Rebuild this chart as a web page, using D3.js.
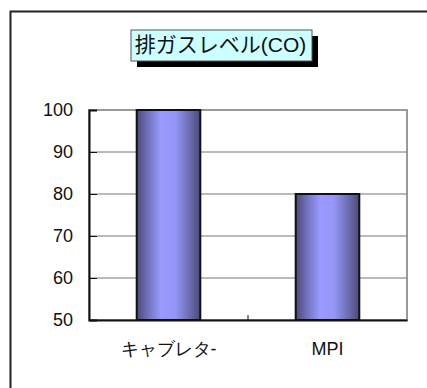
<!DOCTYPE html>
<html><head><meta charset="utf-8">
<script src="https://cdn.jsdelivr.net/npm/d3@7"></script>
<style>
html,body{margin:0;padding:0;background:#fff;}
svg{display:block;font-family:"Liberation Sans","Noto Sans CJK JP",Arial,sans-serif;}
</style></head>
<body>
<script>
const categories = ["キャブレタ-", "MPI"];
const values = [100, 80];
const yTicks = [50, 60, 70, 80, 90, 100];
const title = "排ガスレベル(CO)";

(function(){
const W = 427, H = 388;
const svg = d3.select("body").append("svg").attr("width", W).attr("height", H);
const defs = svg.append("defs");
const grad = defs.append("linearGradient").attr("id","barGrad").attr("x1","0").attr("x2","1").attr("y1","0").attr("y2","0");
[[0,"#4a4a7a"],[0.18,"#7272bc"],[0.38,"#9999ff"],[0.6,"#9696f8"],[0.82,"#6e6eb4"],[1,"#4a4a7a"]].forEach(([o,c])=>grad.append("stop").attr("offset",o).attr("stop-color",c));

// outer chart border (extends past right/bottom)
svg.append("rect").attr("x",10.5).attr("y",11.5).attr("width",W+20).attr("height",H+20)
  .attr("fill","#fff").attr("stroke","#222").attr("stroke-width",2);

const pl = 89, pr = 407, pt = 110, pb = 320;
const x = d3.scaleBand().domain(categories).range([pl, pr]).paddingInner(0.6).paddingOuter(0.3);
const xb = d3.scaleBand().domain(categories).range([pl, pr]);
const y = d3.scaleLinear().domain([50, 100]).range([pb, pt]);

// plot area border
svg.append("rect").attr("x",pl).attr("y",pt).attr("width",pr-pl).attr("height",pb-pt)
  .attr("fill","#fff").attr("stroke","#9a9a9a").attr("stroke-width",2);

// gridlines
svg.append("g").selectAll("line").data(yTicks.filter(t=>t>50 && t<100)).join("line")
  .attr("x1",pl).attr("x2",pr).attr("y1",d=>y(d)).attr("y2",d=>y(d))
  .attr("stroke","#777").attr("stroke-width",1);

// bars
svg.append("g").selectAll("rect").data(values).join("rect")
  .attr("x",(d,i)=>x(categories[i])).attr("width",x.bandwidth())
  .attr("y",d=>y(d)).attr("height",d=>pb-y(d))
  .attr("fill","url(#barGrad)").attr("stroke","#111").attr("stroke-width",2);

// y axis
const yAxis = d3.axisLeft(y).tickValues(yTicks).tickSize(-8).tickPadding(16);
const gy = svg.append("g").attr("transform",`translate(${pl},0)`).call(yAxis);
gy.select(".domain").attr("stroke","#111").attr("stroke-width",2);
gy.selectAll(".tick line").attr("stroke","#111");
gy.selectAll("text").attr("font-size",18).attr("fill","#111").attr("font-family","'Liberation Sans',Arial,sans-serif");

// x axis
const xAxis = d3.axisBottom(xb).tickSize(0).tickPadding(22);
const gx = svg.append("g").attr("transform",`translate(0,${pb})`).call(xAxis);
gx.select(".domain").attr("stroke","#111").attr("stroke-width",2);
gx.selectAll("text").attr("font-size",18).attr("fill","#111");
// category separator tick
svg.append("line").attr("x1",xb(categories[1])).attr("x2",xb(categories[1])).attr("y1",pb).attr("y2",pb-5).attr("stroke","#111");

// title box
const tb = {x:131, y:30, w:181, h:31};
svg.append("rect").attr("x",tb.x+6).attr("y",tb.y+6).attr("width",tb.w).attr("height",tb.h).attr("fill","#000");
svg.append("rect").attr("x",tb.x).attr("y",tb.y).attr("width",tb.w).attr("height",tb.h)
  .attr("fill","#ccffff").attr("stroke","#555").attr("stroke-width",1);
svg.append("text").attr("x",tb.x+tb.w/2-1).attr("y",tb.y+tb.h/2+1).attr("text-anchor","middle")
  .attr("dominant-baseline","middle").attr("font-size",21).attr("fill","#111").text(title);
})();
</script>
</body></html>
